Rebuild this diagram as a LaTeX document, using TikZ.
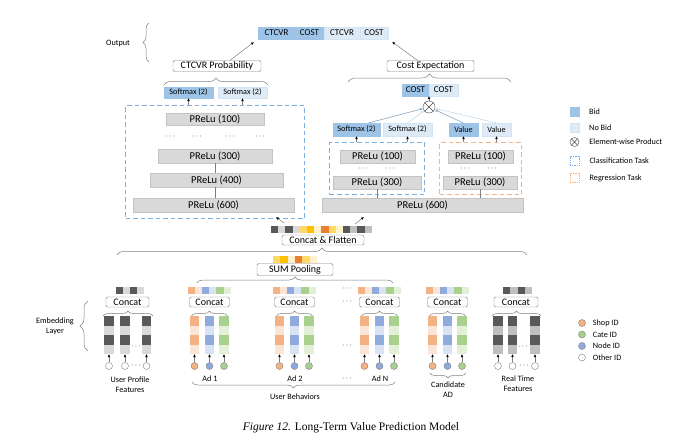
\documentclass[tikz,border=0pt]{standalone}
\usepackage{fontspec}
\setmainfont{Carlito}
\newfontfamily\capfont{Liberation Serif}
\usetikzlibrary{positioning,calc,arrows.meta,decorations.pathreplacing}

\definecolor{bid}{RGB}{157,195,230}
\definecolor{nobid}{RGB}{222,235,247}
\definecolor{clsclr}{RGB}{125,175,225}
\definecolor{layer}{RGB}{217,217,217}
\definecolor{layerln}{RGB}{195,195,195}
\definecolor{lnclr}{RGB}{127,127,127}
\definecolor{regclr}{RGB}{245,180,135}
\definecolor{dk}{RGB}{89,89,89}
\definecolor{lt}{RGB}{217,217,217}
\definecolor{ltb}{RGB}{191,191,191}
\definecolor{shop}{RGB}{244,177,131}
\definecolor{shoplt}{RGB}{251,229,214}
\definecolor{nodeid}{RGB}{143,170,220}
\definecolor{nodelt}{RGB}{218,227,243}
\definecolor{cate}{RGB}{169,209,142}
\definecolor{catelt}{RGB}{226,240,217}
\definecolor{gold}{RGB}{255,192,0}
\definecolor{yel}{RGB}{255,217,102}
\definecolor{paleyel}{RGB}{255,242,204}
\definecolor{deeporg}{RGB}{237,125,49}

\begin{document}
\begin{tikzpicture}[x=1pt, y=-1pt,
    lbl/.style = {draw=lnclr, rounded corners=1.5pt, fill=white, inner sep=0pt, minimum height=11pt, font=\fontsize{10}{12}\selectfont},
    layerbox/.style = {fill=layer, draw=layerln, inner sep=0pt, minimum height=14pt, font=\fontsize{10.5}{12}\selectfont},
    bidbox/.style = {fill=bid, draw=bid, inner sep=0pt, outer sep=0pt, minimum height=12pt, font=\fontsize{9}{10}\selectfont},
    nobidbox/.style = {fill=nobid, draw=bid!45, inner sep=0pt, outer sep=0pt, minimum height=12pt, font=\fontsize{9}{10}\selectfont},
    small/.style = {font=\fontsize{8.2}{9}\selectfont},
    clstask/.style = {draw=clsclr, line width=1pt, dash pattern=on 4.5pt off 3pt, inner sep=0pt},
    regtask/.style = {draw=regclr, line width=1pt, dash pattern=on 4.5pt off 3pt, inner sep=0pt},
    ln/.style = {draw=lnclr, line width=0.5pt},
    arr/.style = {draw=lnclr, line width=0.5pt, -{Latex[length=3pt,width=2.6pt,color=black]}},
    bidarr/.style = {draw=bid!85!black, line width=0.6pt, -{Latex[length=3pt,width=2.6pt]}},
    nobidarr/.style = {draw=bid!60, line width=0.6pt, -{Latex[length=3pt,width=2.6pt]}},
    brc/.style = {draw=lnclr, line width=0.5pt, decorate, decoration={brace, amplitude=#1}},
    brc/.default = 5,
    colbox/.style = {minimum width=9.5pt, minimum height=38pt, inner sep=0pt, outer sep=0pt},
    idnode/.style = {circle, draw=lnclr, minimum size=7pt, inner sep=0pt},
    txt/.style = {font=\fontsize{8.2}{10}\selectfont, align=center, inner sep=1pt},
    dots/.style = {font=\fontsize{8}{9}\selectfont, inner sep=0pt}
]
\useasboundingbox (0,0) rectangle (687,439);

% --- MACROS ---
% row of coloured squares: \featbar{x start}{y}{square width}{colours}
\def\featbar#1#2#3#4{
    \foreach \clr [count=\i from 0] in {#4} {
        \fill[\clr] (#1+\i*#3, #2) rectangle ++(#3, 6.5);
    }
}
% one embedding column: \embcol{name}{x}{dark}{light}
\def\embcol#1#2#3#4{
    \node[colbox] (#1) at (#2, 335) {};
    \foreach \k/\clr in {0/#3, 1/#4, 2/#3, 3/#4} {
        \fill[\clr] ($(#1.north west)+(0,\k*9.5)$) rectangle +(9.5,9.5);
    }
}
% column with its id circle: \embed{name}{x}{dark}{light}{circle fill}
\def\embed#1#2#3#4#5{
    \embcol{#1}{#2}{#3}{#4}
    \node[idnode, fill=#5] (#1c) at (#2, 366) {};
    \draw[arr] (#1c) -- (#1);
}

% --- OUTPUT ---
\node[txt] (outlab) at (118,43) {Output};
\draw[brc=6] (149,62) -- (149,23);
\node[bidbox, minimum width=37pt] (out1) at (276.5,33) {CTCVR};
\node[bidbox, minimum width=29pt, right=0pt of out1] (out2) {COST};
\node[nobidbox, minimum width=36pt, right=0pt of out2] (out3) {CTCVR};
\node[nobidbox, minimum width=28pt, right=0pt of out3] (out4) {COST};

\node[lbl, minimum width=88pt] (ctp) at (217,66) {CTCVR Probability};
\node[lbl, minimum width=87pt] (cexp) at (430.5,66) {Cost Expectation};
\draw[arr, shorten >=5pt] ([xshift=13pt]ctp.north) -- (out1.south west);
\draw[arr, shorten >=5pt] ([xshift=-13pt]cexp.north) -- (out4.south east);
\draw[brc=7] (164,85) -- (268,85);
\draw[brc=8] (348,82) -- (511,82);

% --- CTCVR TOWER ---
\node[bidbox, small, minimum width=49pt, minimum height=11pt] (sm1) at (188.5,92.5) {Softmax (2)};
\node[nobidbox, small, minimum width=49pt, minimum height=11pt] (sm2) at (242.5,92.5) {Softmax (2)};
\node[clstask, minimum width=179pt, minimum height=113pt] (ltask) at (215,162) {};
\draw[arr] (sm1.south |- ltask.north) -- (sm1.south);
\draw[arr] (sm2.south |- ltask.north) -- (sm2.south);

\node[layerbox, minimum width=98pt, minimum height=12pt] (p1) at (215,119) {PReLu (100)};
\foreach \x in {170,197,230,260}
    \node[dots] (ld\x) at (\x,137) {$\cdots$};
\node[layerbox, minimum width=114pt] (p3) at (215,156) {PReLu (300)};
\node[layerbox, minimum width=133pt] (p4) at (216.5,180) {PReLu (400)};
\node[layerbox, minimum width=161pt] (p6) at (213.5,205) {PReLu (600)};
\draw[ln] (p3.south) -- (p3.south |- p4.north);
\draw[ln] (p3.south |- p4.south) -- (p3.south |- p6.north);

% --- COST TOWER ---
\node[bidbox, minimum width=27pt] (cost1) at (415.5,90) {COST};
\node[nobidbox, minimum width=29pt, right=0pt of cost1] (cost2) {COST};
\node[circle, draw=black!70, minimum size=12pt, inner sep=0pt] (ot) at (429,107) {};
\draw[black!70] (ot.north west) -- (ot.south east) (ot.north east) -- (ot.south west);
\draw[arr] (ot) -- (cost1.south east);

\node[bidbox, small, minimum width=47pt, minimum height=13pt] (sm3) at (356.5,129.5) {Softmax (2)};
\node[nobidbox, small, minimum width=49pt, minimum height=13pt] (sm4) at (407.5,129.5) {Softmax (2)};
\node[bidbox, small, minimum width=29pt, minimum height=13pt] (val1) at (463.5,129.5) {Value};
\node[nobidbox, small, minimum width=29pt, minimum height=13pt] (val2) at (496.5,129.5) {Value};
\draw[bidarr] ([xshift=12pt]sm3.north) -- (ot);
\draw[nobidarr] (sm4.north) -- (ot);
\draw[bidarr] (val1.north) -- (ot);
\draw[nobidarr] (val2.north) -- (ot);

\node[clstask, minimum width=95pt, minimum height=52pt] (ctask) at (377,168.5) {};
\node[regtask, minimum width=82pt, minimum height=52pt] (rtask) at (480.5,168.5) {};
\foreach \b in {sm3, sm4}
    \draw[arr] (\b.south |- ctask.north) -- (\b.south);
\foreach \b in {val1, val2}
    \draw[arr] (\b.south |- rtask.north) -- (\b.south);

\node[layerbox, minimum width=75pt, minimum height=13pt] (q1) at (377.5,156.5) {PReLu (100)};
\node[layerbox, minimum width=88pt, minimum height=13pt] (q3) at (377,182.5) {PReLu (300)};
\node[layerbox, minimum width=65pt, minimum height=13pt] (r1) at (480.5,156.5) {PReLu (100)};
\node[layerbox, minimum width=74pt, minimum height=13pt] (r3) at (480,182.5) {PReLu (300)};
\foreach \x in {363,390,465,492}
    \node[dots] (rd\x) at (\x,169) {$\cdots$};
\node[layerbox, minimum width=201pt] (pr6) at (422.5,205) {PReLu (600)};
\draw[ln] (q3.south) -- (q3.south |- pr6.north);
\draw[ln] (r3.south) -- (r3.south |- pr6.north);

% --- CONCAT & FLATTEN ---
\featbar{271}{226}{7.2}{dk, lt, dk, lt, yel, gold, paleyel, deeporg, yel, paleyel, dk, ltb, dk, ltb}
\coordinate (fla) at (284,223);
\coordinate (flb) at (276,217);
\coordinate (fra) at (355,224);
\coordinate (frb) at (364,217);
\draw[arr] (fla) -- (flb);
\draw[arr] (fra) -- (frb);
\node[lbl, minimum width=82pt, minimum height=10pt] (cf) at (323,240) {Concat \& Flatten};
\draw[brc=7] (117,255) -- (527,255);

\featbar{273}{256}{7.3}{yel, gold, paleyel, deeporg, yel, paleyel}
\node[lbl, minimum width=76pt, minimum height=12pt] (sp) at (295,269.5) {SUM Pooling};
\draw[brc=6] (197,283) -- (393,283);

% --- EMBEDDING LAYER ---
\node[txt] (emb) at (55,326) {Embedding\\Layer};
\draw[brc=8] (88,351) -- (88,301);

% user profile
\featbar{116}{287}{7}{dk, lt, dk, lt}
\node[lbl, minimum width=43pt, minimum height=10pt] (u-cc) at (127.5,302) {Concat};
\draw[brc] (103,316) -- (153,316);
\embed{u1}{109}{dk}{lt}{white}
\embed{u2}{125}{dk}{lt}{white}
\embed{u3}{146.5}{dk}{lt}{white}
\node[dots] (u-d1) at (136,347) {$\cdots$};
\node[dots] (u-d2) at (136,366) {$\cdots$};
\node[txt] (u-lab) at (130,385) {User Profile\\Features};

% ads and candidate
\foreach \g/\x in {a1/209.5, a2/294.5, an/379.5, ca/447.5} {
    \featbar{\x-22}{287}{7.2}{shop, shoplt, nodeid, nodelt, cate, catelt}
    \node[lbl, minimum width=40pt, minimum height=10pt] (\g-cc) at (\x,302) {Concat};
    \draw[brc] (\x-18,316) -- (\x+18,316);
    \embed{\g-s}{\x-15}{shop}{shoplt}{shop}
    \embed{\g-n}{\x}{nodeid}{nodelt}{nodeid}
    \embed{\g-t}{\x+14.5}{cate}{catelt}{cate}
}
\node[txt] (a1-lab) at (210,379) {Ad 1};
\node[txt] (a2-lab) at (295,379) {Ad 2};
\node[txt] (an-lab) at (380,379) {Ad N};
\foreach \y in {289,302,346,379}
    \node[dots] (ad\y) at (347,\y) {$\cdots$};
\draw[brc=6] (395,382) -- (192,382);
\node[txt] (ub) at (295,397) {User Behaviors};
\draw[brc] (466,373) -- (430,373);
\node[txt] (ca-lab) at (448,390) {Candidate\\AD};

% real time
\featbar{503}{287}{7.25}{dk, ltb, dk, ltb}
\node[lbl, minimum width=44pt, minimum height=10pt] (r-cc) at (516,302) {Concat};
\draw[brc] (492,316) -- (541,316);
\embed{rt1}{498}{dk}{ltb}{white}
\embed{rt2}{512.5}{dk}{ltb}{white}
\embed{rt3}{535}{dk}{ltb}{white}
\node[dots] (r-d1) at (523,347) {$\cdots$};
\node[dots] (r-d2) at (524,366) {$\cdots$};
\node[txt] (r-lab) at (518,384) {Real Time\\Features};

% --- LEGEND ---
\node[bidbox, minimum size=9pt] (lg1) at (574.5,111.5) {};
\node[nobidbox, minimum size=9pt] (lg2) at (574.5,127.5) {};
\node[circle, draw=black!70, minimum size=9pt, inner sep=0pt] (lg3) at (574.5,142) {};
\draw[black!70] (lg3.north west) -- (lg3.south east) (lg3.north east) -- (lg3.south west);
\node[draw=clsclr, densely dotted, line width=0.8pt, minimum size=9pt, inner sep=0pt] (lg4) at (574.5,161) {};
\node[draw=regclr, densely dotted, line width=0.8pt, minimum size=9pt, inner sep=0pt] (lg5) at (574.5,178) {};
\foreach \n/\t in {lg1/Bid, lg2/No Bid, lg3/Element-wise Product, lg4/Classification Task, lg5/Regression Task}
    \node[txt, right=9pt of \n] (\n t) {\t};

\foreach \n/\y/\clr/\t in {ls/323/shop/Shop ID, lc/334.5/cate/Cate ID, lnd/346/nodeid/Node ID, lo/357.5/white/Other ID} {
    \node[idnode, fill=\clr] (\n) at (582,\y) {};
    \node[txt, right=6pt of \n] (\n t) {\t};
}

% --- CAPTION ---
\node[font=\fontsize{11.5}{13}\selectfont] (cap) at (351,428) {\capfont\textit{Figure 12.} Long-Term Value Prediction Model};

\end{tikzpicture}
\end{document}
